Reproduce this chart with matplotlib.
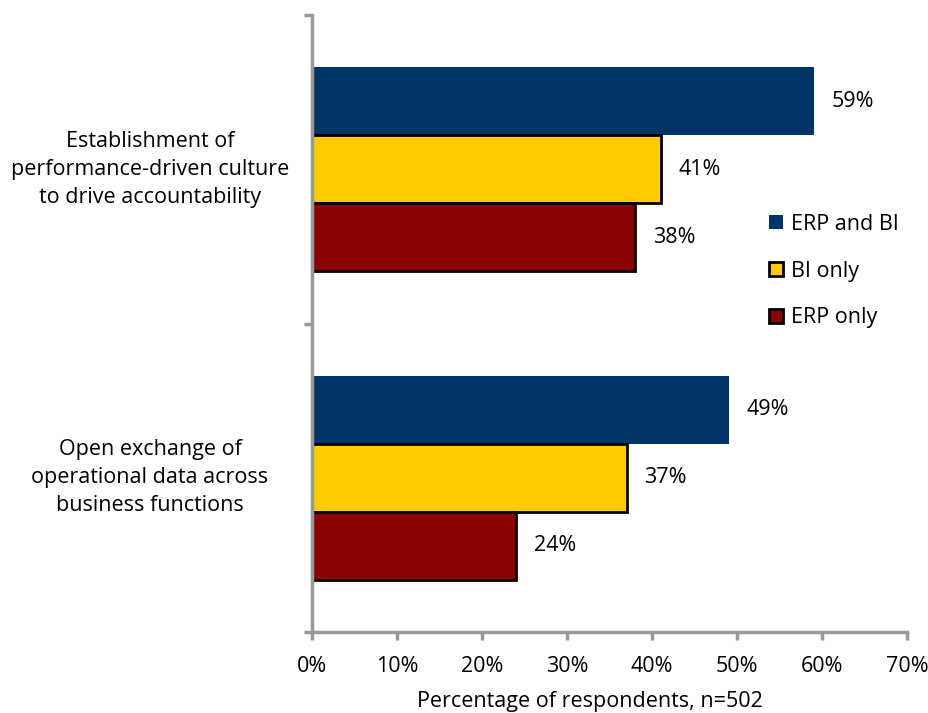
import matplotlib
matplotlib.use("Agg")
import matplotlib.pyplot as plt
import matplotlib.transforms as mtransforms
import numpy as np

categories = [
    "Establishment of\nperformance-driven culture\nto drive accountability",
    "Open exchange of\noperational data across\nbusiness functions",
]
series_names = ["ERP and BI", "BI only", "ERP only"]
erp_and_bi = [59, 49]
bi_only = [41, 37]
erp_only = [38, 24]
x_ticks = [0, 10, 20, 30, 40, 50, 60, 70]

colors = ["#003366", "#FFCC00", "#8B0000"]
edges = ["none", "black", "black"]

plt.rcParams["font.family"] = ["Open Sans", "DejaVu Sans"]
plt.rcParams["font.size"] = 15.5

fig = plt.figure(figsize=(9.29, 7.13), dpi=100)
ax = fig.add_axes([312 / 929, 1 - 632 / 713, (907 - 312) / 929, (632 - 15) / 713])

centers = np.arange(len(categories)) + 0.5
h = 0.22
values = [erp_and_bi, bi_only, erp_only]
for i, (name, vals) in enumerate(zip(series_names, values)):
    ys = centers + (i - 1) * h
    ax.barh(ys, vals, height=h, color=colors[i], label=name,
            edgecolor=edges[i], linewidth=2 if edges[i] != "none" else 0)
    for y, v in zip(ys, vals):
        ax.text(v + 2.1, y, f"{v}%", va="center", ha="left")

ax.set_ylim(2, 0)
ax.set_xlim(0, 70)
ax.set_xticks(x_ticks)
ax.set_xticklabels([f"{t}%" for t in x_ticks])
ax.set_yticks([0, 1, 2])
ax.set_yticklabels([])

# category labels, centred a fixed distance left of the axis
trans = mtransforms.blended_transform_factory(fig.transFigure, ax.transData)
for y, c in zip(centers, categories):
    ax.text(150 / 929, y, c, ha="center", va="center", multialignment="center",
            transform=trans, linespacing=1.45)

for s in ["top", "right"]:
    ax.spines[s].set_visible(False)
for s in ["left", "bottom"]:
    ax.spines[s].set_color("#999999")
    ax.spines[s].set_linewidth(2.5)
ax.tick_params(axis="both", color="#999999", width=2.5, length=6, direction="out")
ax.tick_params(axis="x", pad=11)

fig.text(590 / 929, 1 - 702 / 713, "Percentage of respondents, n=502", ha="center", va="center")

ax.legend(loc="center left", bbox_to_anchor=(750 / 929, 1 - 271 / 713),
          bbox_transform=fig.transFigure, frameon=False,
          handlelength=0.65, handleheight=0.65, handletextpad=0.35, labelspacing=1.2)

fig.savefig("out.png", dpi=100)
